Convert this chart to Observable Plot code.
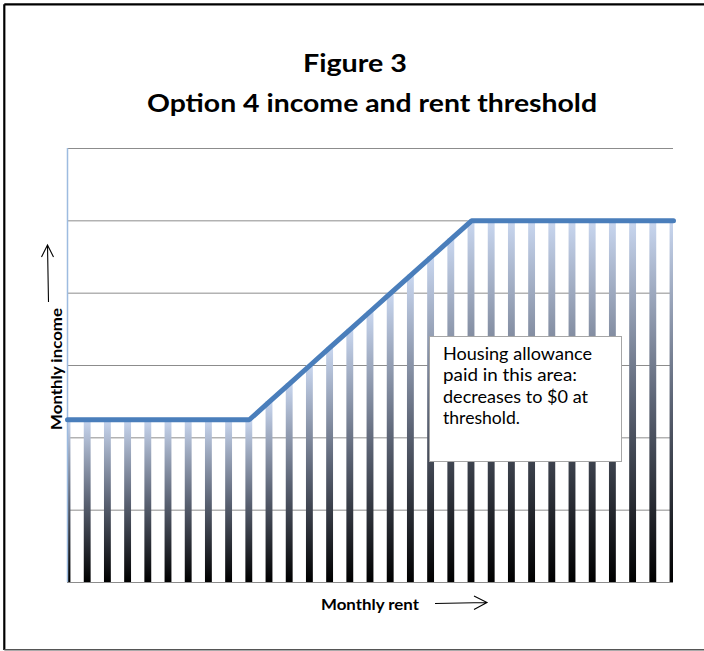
<!DOCTYPE html>
<html>
<head>
<meta charset="utf-8">
<script src="https://cdn.jsdelivr.net/npm/d3@7"></script>
<script src="https://cdn.jsdelivr.net/npm/@observablehq/plot@0.6"></script>
<style>
  html, body { margin: 0; padding: 0; background: #fff; }
  svg { display: block; }
</style>
</head>
<body>
<div id="chart"></div>
<script>
// Rent steps along the horizontal axis (one column per step)
const rentStep = [0, 1, 2, 3, 4, 5, 6, 7, 8, 9, 10, 11, 12, 13, 14, 15,
                  16, 17, 18, 19, 20, 21, 22, 23, 24, 25, 26, 27, 28, 29, 30];
// Income threshold at each rent step
const incomeThreshold = [2.25, 2.25, 2.25, 2.25, 2.25, 2.25, 2.25, 2.25, 2.25, 2.25,
                         2.5, 2.75, 3, 3.25, 3.5, 3.75, 4, 4.25, 4.5, 4.75, 5,
                         5, 5, 5, 5, 5, 5, 5, 5, 5, 5];
// Horizontal gridline levels
const gridLevels = [1, 2, 3, 4, 5, 6];

const titleLines = ["Figure 3", "Option 4 income and rent threshold"];
const xLabel = "Monthly rent";
const yLabel = "Monthly income";
const noteLines = ["Housing allowance", "paid in this area:", "decreases to $0 at", "threshold."];

const data = rentStep.map((r, i) => ({rent: r, income: incomeThreshold[i]}));
const halfBar = 0.17;

const chart = Plot.plot({
  width: 704,
  height: 651,
  marginLeft: 67,
  marginRight: 31,
  marginTop: 148,
  marginBottom: 69,
  x: {domain: [0, 30], axis: null},
  y: {domain: [0, 6], axis: null},
  style: {background: "white", overflow: "visible"},
  marks: [
    Plot.ruleY(gridLevels, {stroke: "#8c8c8c", strokeWidth: 1}),
    Plot.ruleY([0], {stroke: "#8c8c8c", strokeWidth: 1.2}),
    Plot.rect(data, {
      x1: d => d.rent - halfBar,
      x2: d => d.rent + halfBar,
      y1: 0,
      y2: "income",
      fill: "url(#barShade)",
      clip: true
    }),
    Plot.ruleX([0], {stroke: "#9dbbe0", strokeWidth: 1.5}),
    Plot.line(data, {x: "rent", y: "income", stroke: "#4a7ebb", strokeWidth: 5, strokeLinejoin: "miter"})
  ]
});

const svg = d3.select(chart);

// Per-column gradient: pale blue at the top fading to black at the base
const grad = svg.insert("defs", ":first-child")
  .append("linearGradient")
  .attr("id", "barShade")
  .attr("x1", 0).attr("y1", 0).attr("x2", 0).attr("y2", 1);
grad.append("stop").attr("offset", 0).attr("stop-color", "#c9d7f0");
grad.append("stop").attr("offset", 0.5).attr("stop-color", "#5c6475");
grad.append("stop").attr("offset", 1).attr("stop-color", "#000000");

const ann = svg.append("g").attr("text-anchor", "start");

// Outer frame
ann.append("line").attr("x1", 4.3).attr("y1", 4.3).attr("x2", 4.3).attr("y2", 650)
  .attr("stroke", "#000").attr("stroke-width", 2.2);
ann.append("line").attr("x1", 4.3).attr("y1", 4.3).attr("x2", 704).attr("y2", 4.3)
  .attr("stroke", "#000").attr("stroke-width", 2.2);
ann.append("line").attr("x1", 4.3).attr("y1", 649.8).attr("x2", 704).attr("y2", 649.8)
  .attr("stroke", "#555").attr("stroke-width", 1.4);

// Title
const titleStyle = sel => sel
  .attr("font-family", "Lato, 'Open Sans', sans-serif")
  .attr("font-weight", "bold")
  .attr("font-size", 24)
  .attr("fill", "#000")
  .attr("text-anchor", "start")
  .attr("lengthAdjust", "spacingAndGlyphs");
ann.append("text").call(titleStyle)
  .attr("x", 303).attr("y", 72).attr("textLength", 104).text(titleLines[0]);
ann.append("text").call(titleStyle)
  .attr("x", 147).attr("y", 112).attr("textLength", 450).text(titleLines[1]);

// Axis labels with arrows
const labelStyle = sel => sel
  .attr("font-family", "Lato, 'Open Sans', sans-serif")
  .attr("font-weight", "bold")
  .attr("font-size", 16)
  .attr("fill", "#000")
  .attr("text-anchor", "start")
  .attr("lengthAdjust", "spacingAndGlyphs");
ann.append("text").call(labelStyle)
  .attr("x", 321).attr("y", 610).attr("textLength", 98).text(xLabel);
ann.append("text").call(labelStyle)
  .attr("transform", "translate(62,430) rotate(-90)")
  .attr("textLength", 122).text(yLabel);

const arrowStyle = sel => sel.attr("fill", "none").attr("stroke", "#000").attr("stroke-width", 1.1);
ann.append("path").call(arrowStyle).attr("d", "M435,603.5 L487,602.5 M474,596 L487,602.5 L474,609.5");
ann.append("path").call(arrowStyle).attr("d", "M48.5,302 L47.5,245 M41.5,257 L47.5,245 L53.5,257");

// Note box
ann.append("rect").attr("x", 429.5).attr("y", 336.5).attr("width", 192).attr("height", 125)
  .attr("fill", "#fff").attr("stroke", "#a6a6a6").attr("stroke-width", 1);
const noteLens = [149, 134, 145, 77];
noteLines.forEach((t, i) => {
  ann.append("text")
    .attr("x", 443).attr("y", 360 + i * 21.3)
    .attr("font-family", "Lato, 'Open Sans', sans-serif")
    .attr("font-size", 17.5)
    .attr("fill", "#000")
    .attr("text-anchor", "start")
    .attr("textLength", noteLens[i])
    .attr("lengthAdjust", "spacingAndGlyphs")
    .text(t);
});

document.getElementById("chart").appendChild(chart);
</script>
</body>
</html>
